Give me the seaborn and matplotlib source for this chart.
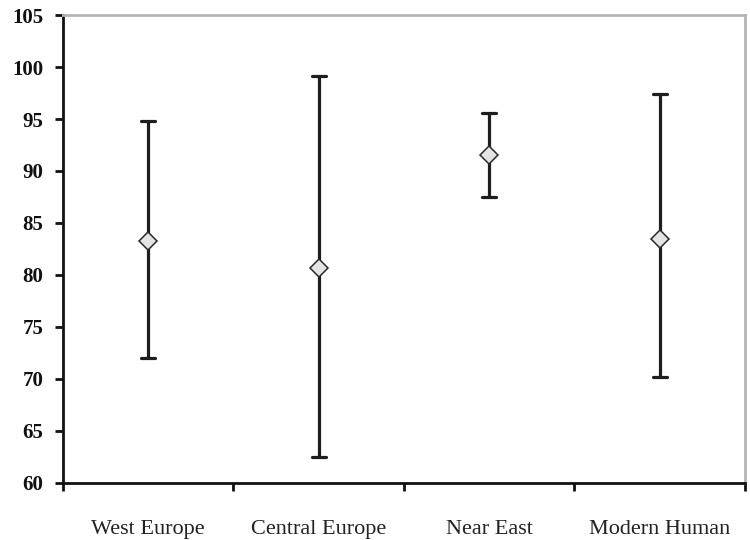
import matplotlib
matplotlib.use("Agg")
import matplotlib.pyplot as plt
import seaborn as sns
import pandas as pd

# Range (min / mean / max) per population
regions = ["West Europe", "Central Europe", "Near East", "Modern Human"]
low = [72.0, 62.5, 87.5, 70.2]
mean = [83.3, 80.7, 91.5, 83.5]
high = [94.8, 99.1, 95.6, 97.4]
y_ticks = [60, 65, 70, 75, 80, 85, 90, 95, 100, 105]

# Long table: the median of (low, mean, high) is the mean, and the full
# percentile interval spans low..high.
rows = []
for r, lo, m, hi in zip(regions, low, mean, high):
    for v in (lo, m, hi):
        rows.append({"region": r, "value": v})
df = pd.DataFrame(rows)

sns.set_theme(style="white")
plt.rcParams["font.family"] = ["Liberation Serif", "DejaVu Serif"]

fig = plt.figure(figsize=(7.5, 5.4), dpi=100)
ax = fig.add_axes([0.084, 0.1056, 0.9093, 0.8666])

sns.pointplot(
    data=df, x="region", y="value", order=regions,
    estimator="median", errorbar=("pi", 100),
    linestyle="none", markers="D", color="#1e1e1e",
    capsize=0.08, err_kws={"linewidth": 2.3},
    markersize=9, markerfacecolor="#e4e4e4",
    markeredgecolor="#2a2a2a", markeredgewidth=1.1,
    ax=ax,
)

# keep the diamonds on top of the whiskers
for ln in ax.lines:
    if ln.get_marker() == "D":
        ln.set_zorder(5)

ax.set_ylim(60, 105)
ax.set_xlim(-0.5, 3.5)
ax.set_yticks(y_ticks)
ax.set_yticklabels([str(t) for t in y_ticks], fontsize=15, fontweight="bold",
                   color="#111111")
ax.tick_params(axis="y", direction="out", length=6, width=2, color="#111111",
               pad=8, left=True)

ax.set_xticks(range(len(regions)))
ax.set_xticklabels(regions, fontsize=16, color="#222222")
ax.tick_params(axis="x", which="major", length=0, pad=26.5)
ax.set_xticks([i - 0.5 for i in range(len(regions) + 1)], minor=True)
ax.tick_params(axis="x", which="minor", direction="out", length=6, width=2,
               color="#111111", bottom=True)

ax.set_xlabel("")
ax.set_ylabel("")

for side in ("left", "bottom"):
    ax.spines[side].set_color("#111111")
    ax.spines[side].set_linewidth(2)
for side in ("top", "right"):
    ax.spines[side].set_color("#b4b4b4")
    ax.spines[side].set_linewidth(2)
    ax.spines[side].set_visible(True)

fig.savefig("out.png", dpi=100, facecolor="white")
